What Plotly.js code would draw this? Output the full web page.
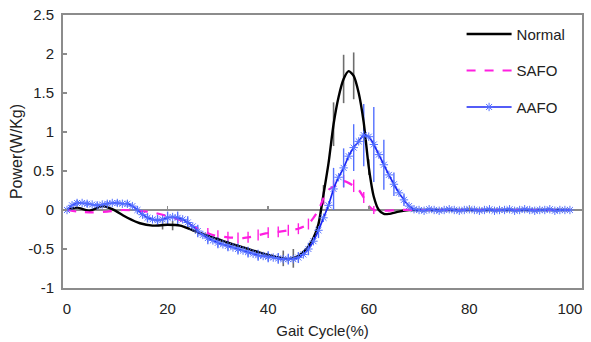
<!DOCTYPE html>
<html>
<head>
<meta charset="utf-8">
<script src="https://cdn.plot.ly/plotly-3.0.1.min.js"></script>
<style>html,body{margin:0;padding:0;background:#fff}#chart{width:591px;height:342px}</style>
</head>
<body>
<div id="chart"></div>
<script>
// ---- data ----
const normalX = [0,2,4.5,7,9,12,14.5,17,20,22.5,25,28,32,35,38,41.5,44,46,48,49,50,51,52,53,54,55,56,57,58,59,60,61,62,63,64,66,68,70,75,80,85,90,95,100];
const normalY = [0,0.03,-0.01,0.05,0.01,-0.1,-0.17,-0.2,-0.19,-0.2,-0.26,-0.33,-0.42,-0.48,-0.54,-0.6,-0.63,-0.59,-0.47,-0.36,-0.18,0.2,0.6,1.1,1.45,1.68,1.78,1.72,1.5,1.12,0.55,0.17,0.0,-0.05,-0.05,-0.02,0,0,0,0,0,0,0,0];

const safoX = [0,2,5,8,11,14,17,20,23,26,29,32,35,37,39.5,42,44,46,48,49,50,51,52,53,55,57,58,59,60,61,63,66,70,80,90,100];
const safoY = [0,-0.02,-0.03,-0.02,0,-0.01,-0.03,-0.08,-0.14,-0.24,-0.32,-0.35,-0.36,-0.34,-0.3,-0.28,-0.26,-0.24,-0.18,-0.1,0.0,0.15,0.26,0.3,0.37,0.31,0.26,0.16,0.05,0.0,-0.01,0,0,0,0,0];

const aafoY = [0,0.06,0.09,0.09,0.08,0.07,0.06,0.07,0.08,0.09,0.09,0.08,0.08,
  0.05,0.0,-0.06,-0.1,-0.12,-0.13,-0.12,-0.1,-0.09,-0.1,-0.12,-0.16,-0.21,
  -0.27,-0.32,-0.36,-0.39,-0.42,-0.44,-0.46,-0.48,-0.5,-0.52,-0.54,-0.56,-0.58,
  -0.59,-0.6,-0.61,-0.62,-0.63,-0.63,-0.63,-0.61,-0.57,-0.5,-0.4,-0.26,-0.1,
  0.06,0.27,0.42,0.54,0.69,0.8,0.88,0.96,0.94,0.84,0.71,0.58,0.45,
  0.33,0.22,0.13,0.05,0.01,0,-0.01,0.01,0,-0.01,0,0.01,0,
  -0.01,0,0.01,0,-0.01,0,0.01,-0.01,0,0,0.01,-0.01,0,
  0.01,0,-0.01,0,0,0.01,-0.01,0,0,0];
const aafoX = aafoY.map((_, i) => i);

const normalErrX = [19,21,43,45,51,53,55,57,60];
const normalErrC = [-0.19,-0.2,-0.62,-0.62,0.2,1.1,1.68,1.72,0.55];
const normalErr  = [0.06,0.06,0.1,0.12,0.12,0.28,0.31,0.3,0.1];

const safoErrX = [28,30,32,34,36,38,40,42,44,46,48,51,53,55,57,59,61];
const safoErrC = [-0.3,-0.33,-0.35,-0.36,-0.35,-0.32,-0.29,-0.28,-0.26,-0.24,-0.18,0.15,0.3,0.37,0.31,0.16,0.0];
const safoErr  = [0.07,0.07,0.07,0.07,0.07,0.07,0.07,0.07,0.07,0.07,0.07,0.08,0.08,0.08,0.08,0.07,0.05];

const aafoErrX = [2,4,6,8,10,12,14,16,18,20,22,24,26,28,30,32,34,36,38,40,42,44,46,48,50,53,55,57,59,61,63,65,67];
const aafoErr  = [0.04,0.04,0.04,0.04,0.04,0.04,0.05,0.06,0.07,0.08,0.08,0.08,0.08,0.08,0.07,0.07,0.07,0.07,0.07,0.07,0.07,0.07,0.07,0.08,0.1,0.27,0.25,0.3,0.4,0.48,0.32,0.15,0.08];
const aafoErrC = aafoErrX.map(x => aafoY[x]);

const xTicks = [0,20,40,60,80,100];
const yTickVals = [-1,-0.5,0,0.5,1,1.5,2,2.5];
const yTickText = ["-1","-0.5","0","0.5","1","1.5","2","2.5"];

// ---- styling ----
const FONT = "Liberation Sans, Arial, sans-serif";
const TXT = "#222";
const AX = "#8c8c8c";
const BLUE = "#1a26f5";
const BLUE_M = "#5470ff";
const MAG = "#ff1fe0";

function errTrace(x, c, e, color, w) {
  return {
    x: x, y: c, type: "scatter", mode: "markers", showlegend: false, hoverinfo: "skip",
    marker: {size: 1, color: "rgba(0,0,0,0)"},
    error_y: {type: "data", array: e, visible: true, color: color, thickness: w, width: 0}
  };
}

const traces = [
  errTrace(normalErrX, normalErrC, normalErr, "#6e6e6e", 1.6),
  errTrace(safoErrX, safoErrC, safoErr, MAG, 1.4),
  errTrace(aafoErrX, aafoErrC, aafoErr, BLUE_M, 1.4),
  {x: normalX, y: normalY, type: "scatter", mode: "lines", name: "Normal", legendgroup: "a",
   line: {color: "#000", width: 2.4, shape: "spline", smoothing: 0.6}},
  {x: safoX, y: safoY, type: "scatter", mode: "lines", name: "SAFO", legendgroup: "b",
   line: {color: MAG, width: 2.2, dash: "dash", shape: "spline", smoothing: 0.6}},
  {x: aafoX, y: aafoY, type: "scatter", mode: "lines+markers", name: "AAFO", legendgroup: "c",
   line: {color: BLUE, width: 1.7, shape: "spline", smoothing: 0.6},
   marker: {symbol: "asterisk-open", size: 7, color: BLUE_M, line: {color: BLUE_M, width: 1}}}
];

const layout = {
  width: 591, height: 342,
  margin: {l: 63, r: 9, t: 15, b: 54},
  paper_bgcolor: "#fff", plot_bgcolor: "#fff",
  font: {family: FONT, size: 15, color: TXT},
  showlegend: true,
  legend: {x: 0.768, y: 0.99, xanchor: "left", yanchor: "top", bgcolor: "rgba(0,0,0,0)",
           font: {family: FONT, size: 15, color: TXT}, traceorder: "grouped", tracegroupgap: 14, itemwidth: 45},
  xaxis: {
    range: [-0.8, 102.4], tickvals: xTicks, ticks: "", showgrid: false, zeroline: false,
    showline: true, mirror: true, linecolor: AX, linewidth: 2,
    tickfont: {family: FONT, size: 15, color: TXT}, ticklabelstandoff: 6,
    title: {text: "Gait Cycle(%)", font: {family: FONT, size: 15, color: TXT}, standoff: 9}
  },
  xaxis2: {
    overlaying: "x", anchor: "free", position: 2/7, side: "bottom",
    range: [-0.8, 102.4], tickvals: [20,40,60,80], ticks: "inside", ticklen: 4, tickwidth: 1.5, tickcolor: AX,
    showticklabels: false, showgrid: false, zeroline: false, showline: false
  },
  yaxis: {
    range: [-1, 2.5], tickvals: yTickVals, ticktext: yTickText,
    ticks: "inside", ticklen: 4, tickwidth: 1.5, tickcolor: AX,
    showgrid: false, zeroline: true, zerolinecolor: AX, zerolinewidth: 1.6,
    showline: true, mirror: true, linecolor: AX, linewidth: 2,
    tickfont: {family: FONT, size: 15, color: TXT}, ticklabelstandoff: 4,
    title: {text: "Power(W/Kg)", font: {family: FONT, size: 16, color: TXT}, standoff: 2}
  }
};

// a dummy trace on xaxis2 so the axis is drawn
traces.push({x: [0], y: [0], xaxis: "x2", yaxis: "y", type: "scatter", mode: "markers",
             marker: {size: 1, color: "rgba(0,0,0,0)"}, showlegend: false, hoverinfo: "skip"});

Plotly.newPlot("chart", traces, layout, {staticPlot: true, displayModeBar: false});
</script>
</body>
</html>
